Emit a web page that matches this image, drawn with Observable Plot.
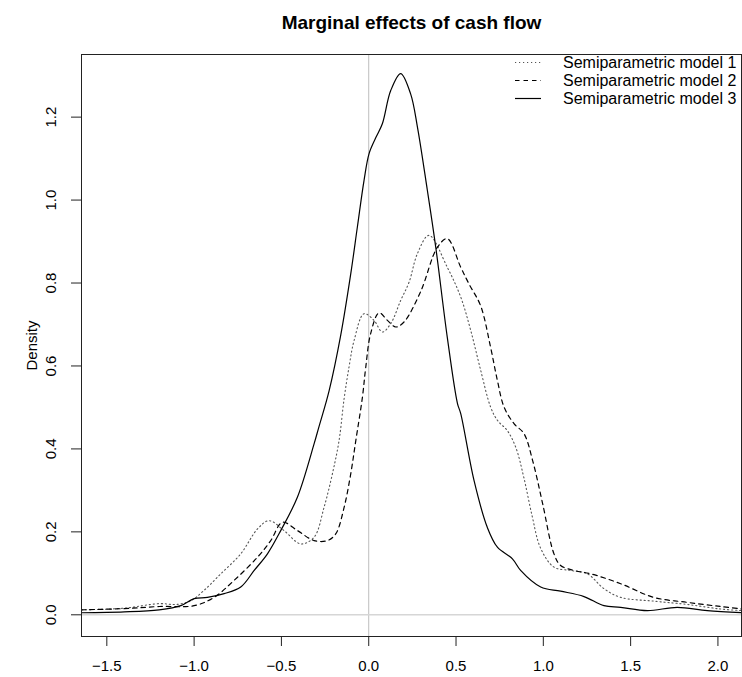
<!DOCTYPE html>
<html>
<head>
<meta charset="utf-8">
<script src="https://cdn.jsdelivr.net/npm/d3@7"></script>
<script src="https://cdn.jsdelivr.net/npm/@observablehq/plot@0.6"></script>
<style>
  html, body { margin: 0; padding: 0; background: #fff; }
  svg { display: block; }
</style>
</head>
<body>
<div id="chart"></div>
<script>
const title = "Marginal effects of cash flow";
const yLabel = "Density";
const seriesNames = ["Semiparametric model 1", "Semiparametric model 2", "Semiparametric model 3"];
const xTicks = [-1.5, -1.0, -0.5, 0.0, 0.5, 1.0, 1.5, 2.0];
const yTicks = [0.0, 0.2, 0.4, 0.6, 0.8, 1.0, 1.2];

// Semiparametric model 1 (dotted)
const x1 = [-1.645, -1.4, -1.2, -1.1, -1.019, -0.943, -0.847, -0.733, -0.637, -0.571, -0.485, -0.389, -0.313, -0.256, -0.208, -0.17, -0.141, -0.113, -0.084, -0.027, 0.030, 0.078, 0.126, 0.183, 0.231, 0.279, 0.345, 0.45, 0.527, 0.584, 0.641, 0.698, 0.737, 0.794, 0.842, 0.889, 0.935, 0.985, 1.061, 1.156, 1.252, 1.347, 1.443, 1.633, 1.824, 2.015, 2.14];
const y1 = [0.012, 0.016, 0.027, 0.025, 0.034, 0.059, 0.099, 0.147, 0.207, 0.227, 0.203, 0.171, 0.187, 0.259, 0.340, 0.420, 0.521, 0.597, 0.661, 0.726, 0.710, 0.682, 0.702, 0.758, 0.802, 0.871, 0.915, 0.838, 0.766, 0.686, 0.590, 0.501, 0.469, 0.444, 0.404, 0.330, 0.240, 0.160, 0.115, 0.107, 0.099, 0.063, 0.042, 0.033, 0.025, 0.014, 0.010];

// Semiparametric model 2 (dashed)
const x2 = [-1.645, -1.4, -1.2, -1.0, -0.886, -0.771, -0.637, -0.561, -0.494, -0.408, -0.313, -0.237, -0.189, -0.141, -0.103, -0.074, -0.036, -0.017, 0.011, 0.059, 0.107, 0.155, 0.202, 0.298, 0.393, 0.45, 0.527, 0.574, 0.641, 0.698, 0.737, 0.775, 0.832, 0.889, 0.94, 0.995, 1.061, 1.099, 1.175, 1.27, 1.443, 1.633, 1.824, 2.015, 2.14];
const y2 = [0.012, 0.015, 0.020, 0.022, 0.042, 0.083, 0.139, 0.179, 0.223, 0.203, 0.179, 0.179, 0.195, 0.259, 0.340, 0.420, 0.525, 0.597, 0.678, 0.728, 0.710, 0.694, 0.706, 0.780, 0.886, 0.907, 0.838, 0.798, 0.745, 0.645, 0.565, 0.501, 0.461, 0.437, 0.370, 0.270, 0.147, 0.119, 0.107, 0.099, 0.075, 0.042, 0.030, 0.020, 0.014];

// Semiparametric model 3 (solid)
const x3 = [-1.645, -1.4, -1.2, -1.076, -1.0, -0.924, -0.828, -0.733, -0.656, -0.58, -0.504, -0.408, -0.313, -0.286, -0.227, -0.16, -0.103, -0.065, -0.027, 0.002, 0.04, 0.078, 0.126, 0.183, 0.24, 0.279, 0.336, 0.384, 0.45, 0.508, 0.527, 0.603, 0.679, 0.737, 0.823, 0.870, 0.985, 1.099, 1.233, 1.347, 1.443, 1.596, 1.767, 1.939, 2.14];
const y3 = [0.005, 0.007, 0.012, 0.022, 0.039, 0.042, 0.051, 0.067, 0.107, 0.147, 0.203, 0.284, 0.412, 0.452, 0.540, 0.675, 0.822, 0.935, 1.047, 1.112, 1.150, 1.184, 1.264, 1.305, 1.256, 1.176, 1.023, 0.886, 0.669, 0.510, 0.485, 0.324, 0.211, 0.163, 0.135, 0.107, 0.067, 0.057, 0.044, 0.022, 0.018, 0.010, 0.018, 0.010, 0.005];

const toRows = (xs, ys) => xs.map((x, i) => ({x, y: ys[i]}));
const rows1 = toRows(x1, y1), rows2 = toRows(x2, y2), rows3 = toRows(x3, y3);

const styles = [
  {stroke: "#555", strokeWidth: 1.1, strokeDasharray: "1.2,2.8"},
  {stroke: "#000", strokeWidth: 1.2, strokeDasharray: "4.5,4"},
  {stroke: "#000", strokeWidth: 1.2, strokeDasharray: null}
];

const fmt = d => d3.format(".1f")(d);
const FONT = "'Liberation Sans', Arial, Helvetica, sans-serif";

const legendMark = (index, scales, values, dimensions) => {
  const {width, marginRight, marginTop} = dimensions;
  const right = width - marginRight;
  const g = d3.create("svg:g");
  const textX = right - 178;
  const rowY = [8.5, 26.5, 44.5];
  seriesNames.forEach((name, i) => {
    const y = marginTop + rowY[i];
    const s = styles[i];
    const ln = g.append("line")
      .attr("x1", textX - 48).attr("x2", textX - 22)
      .attr("y1", y).attr("y2", y)
      .attr("stroke", s.stroke).attr("stroke-width", s.strokeWidth);
    if (s.strokeDasharray) ln.attr("stroke-dasharray", s.strokeDasharray);
    g.append("text")
      .attr("x", textX).attr("y", y).attr("dy", "0.35em")
      .attr("text-anchor", "start")
      .attr("font-size", 16).attr("font-family", FONT)
      .attr("fill", "#000")
      .text(name);
  });
  return g.node();
};

const chart = Plot.plot({
  width: 742,
  height: 677,
  marginLeft: 81,
  marginRight: 1,
  marginTop: 54,
  marginBottom: 41,
  style: {fontFamily: FONT, background: "#fff", color: "#000"},
  x: {domain: [-1.645, 2.135], axis: null},
  y: {domain: [-0.0523, 1.351], axis: null},
  marks: [
    Plot.ruleX([0], {stroke: "#bdbdbd", strokeWidth: 1}),
    Plot.ruleY([0], {stroke: "#d6d6d6", strokeWidth: 1.6}),
    Plot.line(rows1, {x: "x", y: "y", curve: "catmull-rom", clip: true, ...styles[0]}),
    Plot.line(rows2, {x: "x", y: "y", curve: "catmull-rom", clip: true, ...styles[1]}),
    Plot.line(rows3, {x: "x", y: "y", curve: "catmull-rom", clip: true, ...styles[2]}),
    Plot.frame({stroke: "#222", strokeWidth: 1}),
    Plot.axisX({ticks: xTicks, tickSize: 10, tickPadding: 14, tickFormat: fmt, fontSize: 15, label: null, stroke: "#222"}),
    Plot.axisY({ticks: yTicks, tickSize: 10, tickFormat: () => "", label: null, stroke: "#222"}),
    Plot.text(yTicks, {y: d => d, text: fmt, frameAnchor: "left", dx: -30, rotate: -90, textAnchor: "middle", fontSize: 15, fill: "#000"}),
    Plot.text([yLabel], {frameAnchor: "left", dx: -49, rotate: -90, textAnchor: "middle", fontSize: 15, fill: "#000"}),
    Plot.text([title], {frameAnchor: "top", dy: -39, fontWeight: "bold", fontSize: 19, fill: "#000"}),
    legendMark
  ]
});
document.getElementById("chart").appendChild(chart);
</script>
</body>
</html>
